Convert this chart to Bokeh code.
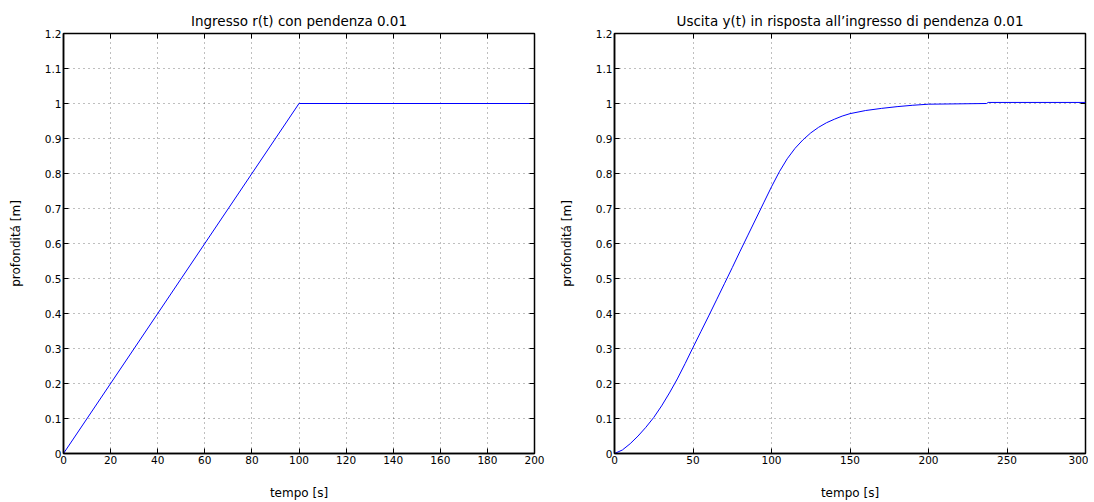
from bokeh.plotting import figure
from bokeh.layouts import row
from bokeh.models import Range1d, FixedTicker, LinearAxis
from bokeh.embed import file_html
from bokeh.resources import INLINE

# ---- data ----
r_t = [0, 100, 200]
r_v = [0, 1, 1]

y_t = [0, 5, 10, 15, 20, 25, 30, 35, 40, 45, 50, 55, 60, 65, 70, 75, 80, 85, 90,
       95, 100, 105, 110, 115, 120, 125, 130, 135, 140, 145, 150, 160, 170, 180, 190,
       200, 237, 238, 300]
y_v = [0, 0.01, 0.028, 0.05, 0.075, 0.103, 0.136, 0.173, 0.213, 0.257, 0.303, 0.348,
       0.393, 0.439, 0.485, 0.531, 0.578, 0.624, 0.67, 0.716, 0.762, 0.805, 0.842,
       0.872, 0.896, 0.916, 0.932, 0.945, 0.955, 0.964, 0.971, 0.98, 0.986, 0.991,
       0.995, 0.998, 1.0, 1.003, 1.003]

y_ticks = [0, 0.1, 0.2, 0.3, 0.4, 0.5, 0.6, 0.7, 0.8, 0.9, 1.0, 1.1, 1.2]
y_tick_labels = ["0", "0.1", "0.2", "0.3", "0.4", "0.5", "0.6", "0.7", "0.8", "0.9", "1", "1.1", "1.2"]
x_ticks_left = [0, 20, 40, 60, 80, 100, 120, 140, 160, 180, 200]
x_ticks_right = [0, 50, 100, 150, 200, 250, 300]

title_left = "Ingresso r(t) con pendenza 0.01"
title_right = "Uscita y(t) in risposta all\u2019ingresso di pendenza 0.01"
xlabel = "tempo [s]"
ylabel = "profondit\u00e1 [m]"

FONT = "DejaVu Sans"


def make_fig(width, mbl, mbr, xmax, xticks, title):
    p = figure(width=width, height=502, x_range=Range1d(0, xmax), y_range=Range1d(0, 1.2),
               output_backend="svg", toolbar_location=None,
               min_border_left=mbl, min_border_right=mbr, min_border_top=33, min_border_bottom=49,
               title=title)
    p.background_fill_color = "white"
    p.border_fill_color = "white"
    p.outline_line_color = "black"
    p.outline_line_width = 1.5
    p.title.align = "center"
    p.title.text_font = FONT
    p.title.text_font_size = "13.5px"
    p.title.text_font_style = "normal"
    p.title.text_color = "black"
    p.title.standoff = 10

    p.xaxis.ticker = FixedTicker(ticks=xticks)
    p.yaxis.ticker = FixedTicker(ticks=y_ticks)
    p.yaxis.major_label_overrides = {t: l for t, l in zip(y_ticks, y_tick_labels)}
    p.xaxis.axis_label = xlabel
    p.yaxis.axis_label = ylabel
    for ax in (p.xaxis[0], p.yaxis[0]):
        ax.major_tick_in = 5
        ax.major_tick_out = 0
        ax.minor_tick_line_color = None
        ax.major_tick_line_color = "black"
        ax.axis_line_color = "black"
        ax.axis_line_width = 1.5
        ax.major_label_text_font = FONT
        ax.major_label_text_font_size = "10.5px"
        ax.major_label_text_color = "black"
        ax.axis_label_text_font = FONT
        ax.axis_label_text_font_size = "12px"
        ax.axis_label_text_font_style = "normal"
        ax.axis_label_text_color = "black"
        ax.major_label_standoff = 2
    p.xaxis.axis_label_standoff = 19
    p.yaxis.axis_label_standoff = 19

    # mirrored tick axes on top and right
    top = LinearAxis(ticker=FixedTicker(ticks=xticks),
                     major_label_overrides={t: "" for t in xticks})
    right = LinearAxis(ticker=FixedTicker(ticks=y_ticks),
                       major_label_overrides={t: "" for t in y_ticks})
    for ax in (top, right):
        ax.major_tick_in = 5
        ax.major_tick_out = 0
        ax.minor_tick_line_color = None
        ax.major_tick_line_color = "black"
        ax.axis_line_color = None
        ax.major_label_standoff = 0
        ax.major_label_text_font_size = "1px"
    p.add_layout(top, "above")
    p.add_layout(right, "right")

    p.grid.grid_line_color = "black"
    p.grid.grid_line_alpha = 0.5
    p.grid.grid_line_dash = "1 4"
    p.grid.grid_line_width = 1
    p.xgrid.ticker = FixedTicker(ticks=xticks)
    p.ygrid.ticker = FixedTicker(ticks=y_ticks)
    return p


p1 = make_fig(548, 63, 14, 200, x_ticks_left, title_left)
p1.line(r_t, r_v, line_color="#0000ff", line_width=1)

p2 = make_fig(540, 66, 3, 300, x_ticks_right, title_right)
p2.line(y_t, y_v, line_color="#0000ff", line_width=1)

layout = row(p1, p2)
open("out.html", "w").write(file_html(layout, INLINE))
